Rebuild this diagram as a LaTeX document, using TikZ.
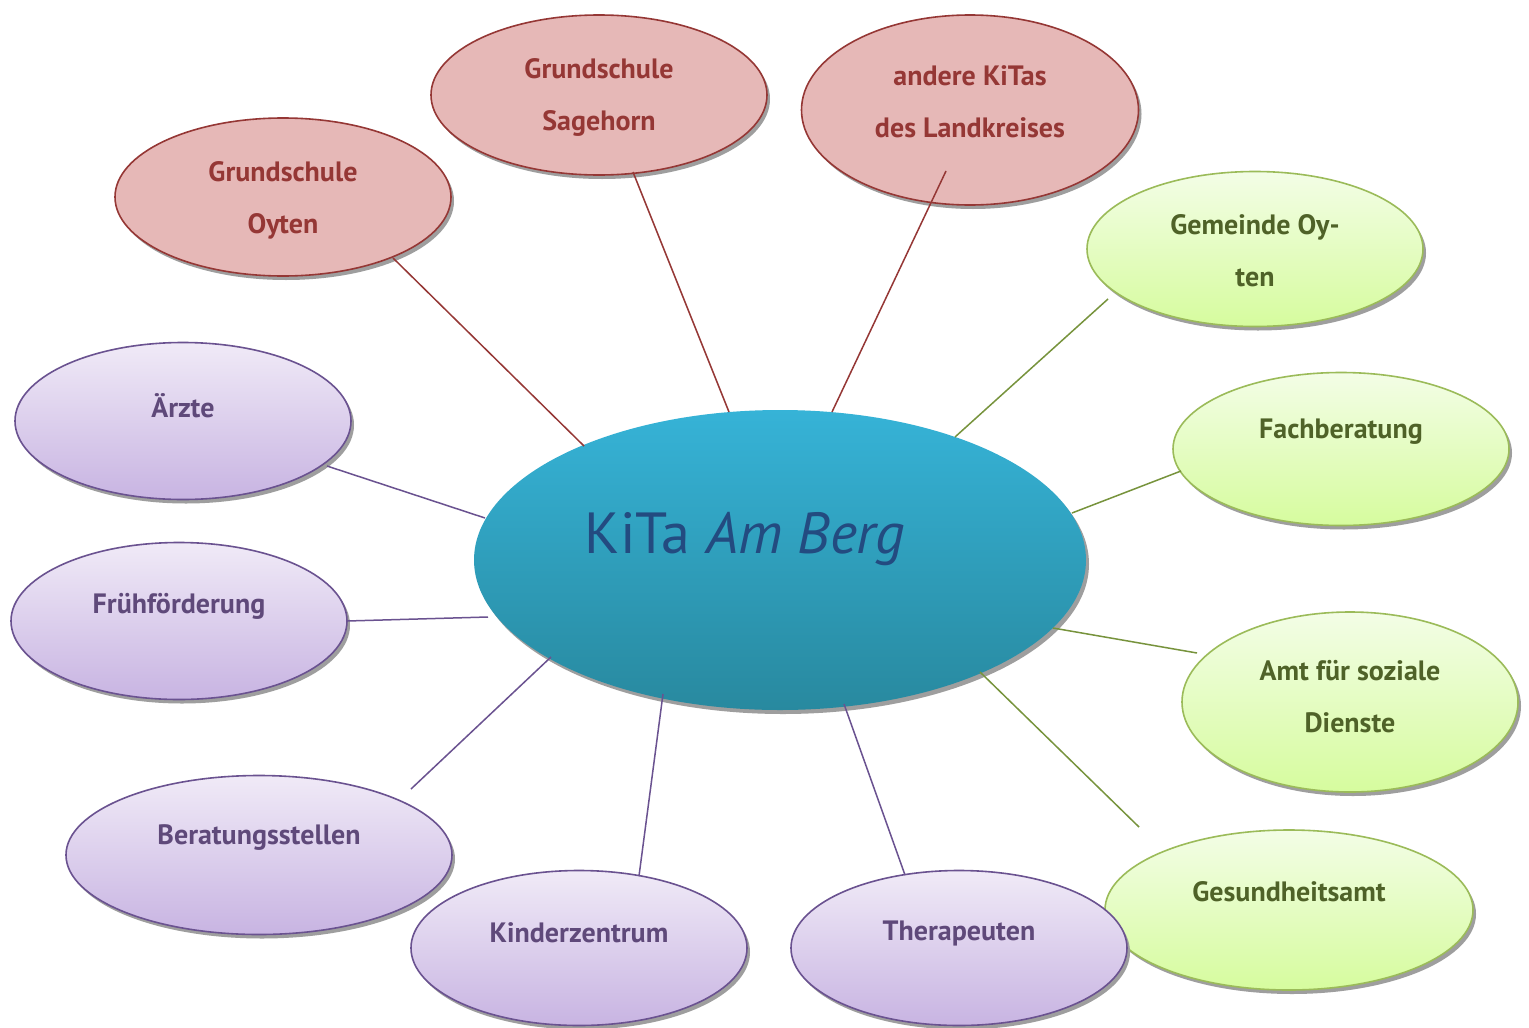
\documentclass[tikz,border=0pt]{standalone}
\usepackage{fontspec}
\setmainfont{PT Sans}
\usetikzlibrary{shapes.geometric,shadows,calc}
\definecolor{redfill}{HTML}{E6B8B7}
\definecolor{redline}{HTML}{953735}
\definecolor{redtext}{HTML}{953735}
\definecolor{purtop}{HTML}{F0EAF7}
\definecolor{purbot}{HTML}{C8B4E2}
\definecolor{purline}{HTML}{6A5290}
\definecolor{purtext}{HTML}{5F497A}
\definecolor{grtop}{HTML}{F3FDE6}
\definecolor{grbot}{HTML}{D6FC9E}
\definecolor{grline}{HTML}{9BBB59}
\definecolor{grconn}{HTML}{77933C}
\definecolor{grtext}{HTML}{4F6228}
\definecolor{kitop}{HTML}{36B3D7}
\definecolor{kibot}{HTML}{28899F}
\definecolor{kitext}{HTML}{234B80}
\tikzset{
  bubble/.style={ellipse, inner sep=0pt, line width=1.6pt,
    drop shadow={shadow xshift=3pt, shadow yshift=-4pt, fill=black!38, opacity=1}},
  redb/.style={bubble, draw=redline, fill=redfill},
  purb/.style={bubble, draw=purline, top color=purtop, bottom color=purbot},
  grb/.style={bubble, draw=grline, top color=grtop, bottom color=grbot},
  lab/.style={font=\bfseries\fontsize{28}{52}\selectfont, align=center},
  redlab/.style={lab, text=redtext},
  purlab/.style={lab, text=purtext},
  grlab/.style={lab, text=grtext},
  conn/.style={line width=1.5pt},
}
\begin{document}
\begin{tikzpicture}[x=1pt,y=-1pt]
\useasboundingbox[fill=white] (0,0) rectangle (1529,1028);
% central
\node[bubble, draw=none, top color=kitop, bottom color=kibot,
  minimum width=612pt, minimum height=300pt] (kita) at (780,560) {};
\node[text=kitext, font=\fontsize{58}{62}\selectfont] (kitalab) at (745,539) {KiTa \textit{Am Berg}};
% red
\node[redb, minimum width=336pt, minimum height=158pt] (oyten) at (283,197) {};
\node[redlab] (oytenlab) at (283,200) {Grundschule\\Oyten};
\node[redb, minimum width=336pt, minimum height=160pt] (sage) at (599,95) {};
\node[redlab] (sagelab) at (599,97) {Grundschule\\Sagehorn};
\node[redb, minimum width=337pt, minimum height=190pt] (andere) at (970,110) {};
\node[redlab] (anderelab) at (970,102) {andere KiTas\\des Landkreises};
% green
\node[grb, minimum width=336pt, minimum height=155pt] (gem) at (1255,249) {};
\node[grlab] (gemlab) at (1255,251) {Gemeinde Oy-\\ten};
\node[grb, minimum width=336pt, minimum height=153pt] (fach) at (1341,449) {};
\node[grlab] (fachlab) at (1341,432) {Fachberatung};
\node[grb, minimum width=336pt, minimum height=180pt] (amt) at (1350,702) {};
\node[grlab] (amtlab) at (1350,697) {Amt für soziale\\Dienste};
\node[grb, minimum width=368pt, minimum height=160pt] (ges) at (1289,910) {};
\node[grlab] (geslab) at (1289,892) {Gesundheitsamt};
% purple
\node[purb, minimum width=336pt, minimum height=157pt] (aerzte) at (183,421) {};
\node[purlab] (aerztelab) at (183,406) {Ärzte};
\node[purb, minimum width=336pt, minimum height=157pt] (frueh) at (179,621) {};
\node[purlab] (fruehlab) at (179,606) {Frühförderung};
\node[purb, minimum width=386pt, minimum height=159pt] (berat) at (259,855) {};
\node[purlab] (beratlab) at (259,838) {Beratungsstellen};
\node[purb, minimum width=336pt, minimum height=155pt] (kinder) at (579,948) {};
\node[purlab] (kinderlab) at (579,933) {Kinderzentrum};
\node[purb, minimum width=336pt, minimum height=155pt] (thera) at (959,948) {};
\node[purlab] (theralab) at (959,933) {Therapeuten};
% connectors
\draw[conn, redline] ($(kita)+(-196,-114)$) -- ($(oyten)+(110,61)$);
\draw[conn, redline] ($(kita)+(-51,-148)$) -- ($(sage)+(34,77)$);
\draw[conn, redline] ($(kita)+(52,-148)$) -- ($(andere)+(-24,61)$);
\draw[conn, grconn] ($(kita)+(175,-123)$) -- ($(gem)+(-147,50)$);
\draw[conn, grconn] ($(kita)+(292,-47)$) -- ($(fach)+(-160,22)$);
\draw[conn, grconn] ($(kita)+(273,68)$) -- ($(amt)+(-153,-49)$);
\draw[conn, grconn] ($(kita)+(200,112)$) -- ($(ges)+(-150,-83)$);
\draw[conn, purline] ($(kita)+(64,144)$) -- ($(thera)+(-54,-73)$);
\draw[conn, purline] ($(kita)+(-117,134)$) -- ($(kinder)+(60,-72)$);
\draw[conn, purline] ($(kita)+(-229,97)$) -- ($(berat)+(152,-66)$);
\draw[conn, purline] ($(kita)+(-292,57)$) -- ($(frueh)+(168,0)$);
\draw[conn, purline] ($(kita)+(-295,-42)$) -- ($(aerzte)+(144,45)$);
\end{tikzpicture}
\end{document}
